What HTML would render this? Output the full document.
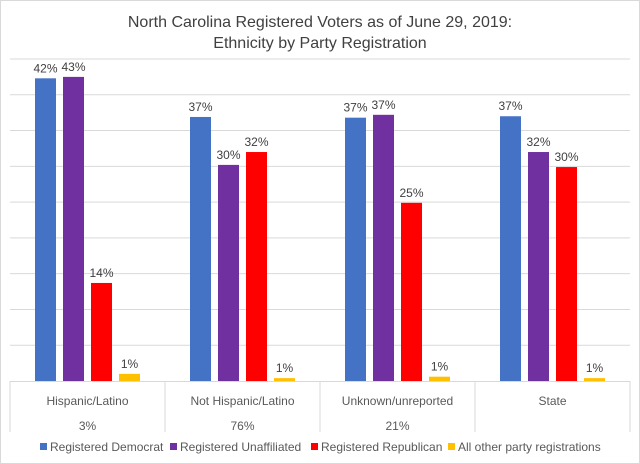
<!DOCTYPE html>
<html><head><meta charset="utf-8"><style>
body{margin:0;background:#fff}
svg{display:block;font-family:"Liberation Sans",sans-serif}
</style></head><body>
<svg id="c" width="640" height="464" viewBox="0 0 640 464">
<rect x="0.5" y="0.5" width="639" height="463" fill="#fff" stroke="#d9d9d9"/>
<text x="320" y="27" text-anchor="middle" font-size="16" fill="#404040">North Carolina Registered Voters as of June 29, 2019:</text>
<text x="320" y="48" text-anchor="middle" font-size="16" fill="#404040">Ethnicity by Party Registration</text>
<g id="grid"></g><g id="bars"></g><g id="cats"></g><g id="legend"></g>
</svg>
<script>
const categories=["Hispanic/Latino","Not Hispanic/Latino","Unknown/unreported","State"];
const subLabels=["3%","76%","21%",""];
const seriesNames=["Registered Democrat","Registered Unaffiliated","Registered Republican","All other party registrations"];
const democrat=[42.3,36.9,36.8,37.0];
const unaffiliated=[42.5,30.2,37.2,32.0];
const republican=[13.7,32.0,24.9,29.9];
const other=[1.0,0.4,0.6,0.4];
const valueLabels=[["42%","37%","37%","37%"],["43%","30%","37%","32%"],["14%","32%","25%","30%"],["1%","1%","1%","1%"]];
const gridTicks=[0,5,10,15,20,25,30,35,40,45];

const series=[democrat,unaffiliated,republican,other];
const colors=["#4472c4","#7030a0","#ff0000","#ffc000"];
const NS="http://www.w3.org/2000/svg";
const L=10,R=630,B=381,T=59,MAX=45;
const catW=(R-L)/categories.length;
function y(v){return B-v/MAX*(B-T);}
function xCat(i){return L+i*catW;}
function mk(tag,attrs,parent){const e=document.createElementNS(NS,tag);for(const k in attrs)e.setAttribute(k,attrs[k]);parent.appendChild(e);return e;}
const grid=document.getElementById('grid'),bars=document.getElementById('bars'),cats=document.getElementById('cats'),leg=document.getElementById('legend');
gridTicks.forEach(t=>{if(t===0)return;
 const l=mk('line',{x1:L,x2:R,y1:y(t),y2:y(t),stroke:'#d9d9d9','stroke-width':1},grid);
 
 
});
const bw=21,step=28,groupW=step*3+bw;
categories.forEach((c,i)=>{
 const gx=xCat(i)+(catW-groupW)/2;
 series.forEach((s,j)=>{
  const v=s[i];const x=gx+j*step;
  const r=mk('rect',{x:x,y:y(v),width:bw,height:B-y(v),fill:colors[j]},bars);
  
  
  const t=mk('text',{x:x+bw/2,y:y(v)-6,'text-anchor':'middle','font-size':12,fill:'#404040'},bars);
  t.textContent=valueLabels[j][i];
  
  
 });
 const t1=mk('text',{x:xCat(i)+catW/2,y:405,'text-anchor':'middle','font-size':12,fill:'#595959'},cats);
 t1.textContent=c;
 
 
 const t2=mk('text',{x:xCat(i)+catW/2,y:430,'text-anchor':'middle','font-size':12,fill:'#595959'},cats);
 t2.textContent=subLabels[i];
 
 
});
mk('line',{x1:L,x2:R,y1:B+0.5,y2:B+0.5,stroke:'#d9d9d9'},cats);
for(let i=0;i<=categories.length;i++){
 const l=mk('line',{x1:xCat(i),x2:xCat(i),y1:B,y2:432,stroke:'#d9d9d9'},cats);
 
 
}
const legX=[40,170,311,448];
seriesNames.forEach((n,j)=>{
 const r=mk('rect',{x:legX[j],y:443,width:7,height:7,fill:colors[j]},leg);
 
 
 const t=mk('text',{x:legX[j]+10,y:451,'font-size':12,fill:'#595959'},leg);
 t.textContent=n;
 
 
});
</script>
</body></html>
